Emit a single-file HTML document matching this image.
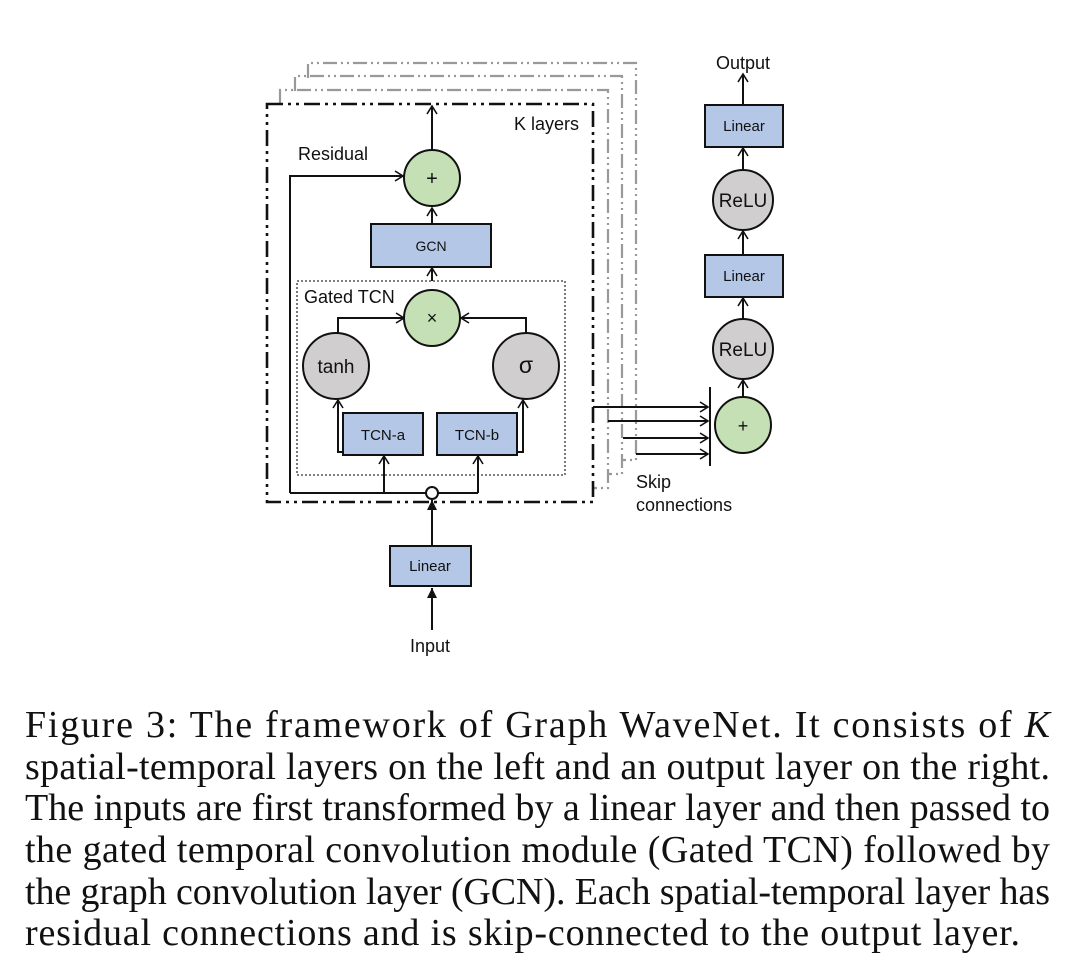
<!DOCTYPE html>
<html><head><meta charset="utf-8"><style>
html,body{margin:0;padding:0;background:#fff;}
svg{display:block;}
.s{font-family:"Liberation Sans",sans-serif;fill:#111;}
.c{font-family:"Liberation Serif",serif;font-size:38px;fill:#111;}
</style></head><body>
<svg width="1080" height="979" viewBox="0 0 1080 979" xmlns="http://www.w3.org/2000/svg">
<defs>
<marker id="a" markerWidth="12" markerHeight="12" refX="10" refY="6" orient="auto" markerUnits="userSpaceOnUse"><path d="M2,1 L10,6 L2,11" fill="none" stroke="#111" stroke-width="1.6"/></marker>
<marker id="f" markerWidth="12" markerHeight="12" refX="10" refY="6" orient="auto" markerUnits="userSpaceOnUse"><path d="M0,1 L10,6 L0,11 Z" fill="#111"/></marker>
</defs>
<g fill="none" stroke-width="2.2" stroke="#999" stroke-dasharray="14,4,2,4,2,4">
<path d="M308,78 V63 H636 V460 H622"/>
<path d="M295,91 V76 H622 V474 H608"/>
<path d="M280,103 V90 H608 V488 H594"/>
</g>
<rect x="267" y="104" width="326" height="398" fill="none" stroke="#111" stroke-width="2.6" stroke-dasharray="16,5,3,5,3,5"/>
<text class="s" x="514" y="130" font-size="18">K layers</text>
<rect x="297" y="281" width="268" height="194" fill="none" stroke="#333" stroke-width="1.3" stroke-dasharray="2,2"/>
<text class="s" x="304" y="303" font-size="18">Gated TCN</text>
<g stroke="#111" stroke-width="2" fill="none">
<path d="M432,149 V106" marker-end="url(#a)"/>
<path d="M290,493 V176 H403" marker-end="url(#a)"/>
<path d="M432,224 V208" marker-end="url(#a)"/>
<path d="M432,281 V268" marker-end="url(#a)"/>
<path d="M338,333 V318 H404" marker-end="url(#a)"/>
<path d="M526,333 V318 H461" marker-end="url(#a)"/>
<path d="M343,452 H338 V400" marker-end="url(#a)"/>
<path d="M517,452 H523 V400" marker-end="url(#a)"/>
<path d="M290,493 H426 M438,493 H478"/>
<path d="M384,493 V456" marker-end="url(#a)"/>
<path d="M478,493 V456" marker-end="url(#a)"/>
<path d="M432,545 V500" marker-end="url(#f)"/>
<path d="M432,630 V588" marker-end="url(#f)"/>
<path d="M593,407 H708" marker-end="url(#a)"/>
<path d="M608,421 H708" marker-end="url(#a)"/>
<path d="M623,438 H708" marker-end="url(#a)"/>
<path d="M636,454 H708" marker-end="url(#a)"/>
<path d="M710,387 V466"/>
<path d="M743,397 V380" marker-end="url(#a)"/>
<path d="M743,319 V298" marker-end="url(#a)"/>
<path d="M743,255 V231" marker-end="url(#a)"/>
<path d="M743,170 V148" marker-end="url(#a)"/>
<path d="M743,105 V74" marker-end="url(#a)"/>
</g>
<text class="s" x="298" y="160" font-size="18">Residual</text>
<g stroke="#111" stroke-width="2">
<circle cx="432" cy="178" r="28" fill="#c5e0b4"/>
<circle cx="432" cy="318" r="28" fill="#c5e0b4"/>
<circle cx="336" cy="366" r="33" fill="#d0cece"/>
<circle cx="526" cy="366" r="33" fill="#d0cece"/>
<rect x="371" y="224" width="120" height="43" fill="#b4c7e7"/>
<rect x="343" y="413" width="80" height="42" fill="#b4c7e7"/>
<rect x="437" y="413" width="80" height="42" fill="#b4c7e7"/>
<rect x="390" y="546" width="81" height="40" fill="#b4c7e7"/>
<circle cx="432" cy="493" r="6" fill="#fff"/>
<circle cx="743" cy="425" r="28" fill="#c5e0b4"/>
<circle cx="743" cy="349" r="30" fill="#d0cece"/>
<circle cx="743" cy="200" r="30" fill="#d0cece"/>
<rect x="705" y="255" width="78" height="42" fill="#b4c7e7"/>
<rect x="705" y="105" width="78" height="42" fill="#b4c7e7"/>
</g>
<g class="s" text-anchor="middle">
<text x="432" y="185" font-size="20">+</text>
<text x="432" y="324" font-size="18">×</text>
<text x="336" y="373" font-size="19">tanh</text>
<text x="526" y="373" font-size="23">σ</text>
<text x="431" y="251" font-size="14">GCN</text>
<text x="383" y="440" font-size="15">TCN-a</text>
<text x="477" y="440" font-size="15">TCN-b</text>
<text x="430" y="571" font-size="15">Linear</text>
<text x="430" y="652" font-size="18">Input</text>
<text x="743" y="432" font-size="18">+</text>
<text x="743" y="356" font-size="19">ReLU</text>
<text x="743" y="207" font-size="19">ReLU</text>
<text x="744" y="281" font-size="15">Linear</text>
<text x="744" y="131" font-size="15">Linear</text>
<text x="743" y="69" font-size="18">Output</text>
</g>
<text class="s" x="636" y="488" font-size="18">Skip</text>
<text class="s" x="636" y="511" font-size="18">connections</text>
<text class="c" x="25" y="737" textLength="1025" lengthAdjust="spacing">Figure 3: The framework of Graph WaveNet. It consists of <tspan font-style="italic">K</tspan></text>
<text class="c" x="25" y="779" textLength="1025" lengthAdjust="spacing">spatial-temporal layers on the left and an output layer on the right.</text>
<text class="c" x="25" y="820" textLength="1025" lengthAdjust="spacing">The inputs are first transformed by a linear layer and then passed to</text>
<text class="c" x="25" y="862" textLength="1025" lengthAdjust="spacing">the gated temporal convolution module (Gated TCN) followed by</text>
<text class="c" x="25" y="904" textLength="1025" lengthAdjust="spacing">the graph convolution layer (GCN). Each spatial-temporal layer has</text>
<text class="c" x="25" y="945" textLength="995" lengthAdjust="spacing">residual connections and is skip-connected to the output layer.</text>
</svg>
</body></html>
